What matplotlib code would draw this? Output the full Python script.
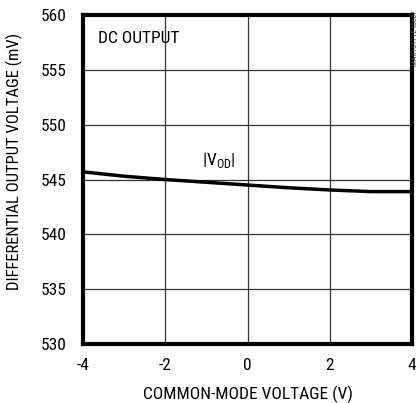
import numpy as np
import matplotlib
matplotlib.use("Agg")
import matplotlib.pyplot as plt

plt.rcParams['font.family'] = ['Roboto Condensed', 'DejaVu Sans']

# common-mode voltage (V) and |VOD| (mV)
vcm = [-4, -3, -2, -1, 0, 1, 2, 3, 4]
vod = [545.7, 545.3, 545.0, 544.75, 544.5, 544.25, 544.05, 543.9, 543.9]

xticks = [-4, -2, 0, 2, 4]
yticks = [530, 535, 540, 545, 550, 555, 560]

fig = plt.figure(figsize=(4.2, 4.03), dpi=100)
ax = fig.add_axes([0.198, 0.146, 0.783, 0.817])

ax.plot(vcm, vod, color='black', linewidth=2.5, zorder=3)

ax.set_xlim(-4, 4)
ax.set_ylim(530, 560)
ax.set_xticks(xticks)
ax.set_yticks(yticks)
ax.set_xticklabels(['-4', '-2', '0', '2', '4'])
ax.grid(True, color='#333333', linewidth=0.9)
ax.tick_params(length=0, labelsize=12.5)
ax.tick_params(axis='x', pad=10)
ax.tick_params(axis='y', pad=12)
for s in ax.spines.values():
    s.set_linewidth(3)
    s.set_zorder(4)

ax.set_xlabel("COMMON-MODE VOLTAGE (V)", fontsize=12.5)
ax.set_ylabel("DIFFERENTIAL OUTPUT VOLTAGE (mV)", fontsize=12)
ax.xaxis.set_label_coords(0.5, -0.127)
ax.yaxis.set_label_coords(-0.235, 0.556)
ax.yaxis.label.set_va('top')

ax.text(-3.65, 557.4, "DC OUTPUT", fontsize=12.5, ha='left', va='baseline')
ax.text(-1.1, 546.3, r"|V$_{\mathregular{OD}}$|", fontsize=12.5, ha='left', va='baseline')

fig.text(0.988, 0.975, "MAX13171E toc07", rotation=90, fontsize=5.5,
         ha='center', va='top', color='#444444')

plt.savefig('out.png', dpi=100)
